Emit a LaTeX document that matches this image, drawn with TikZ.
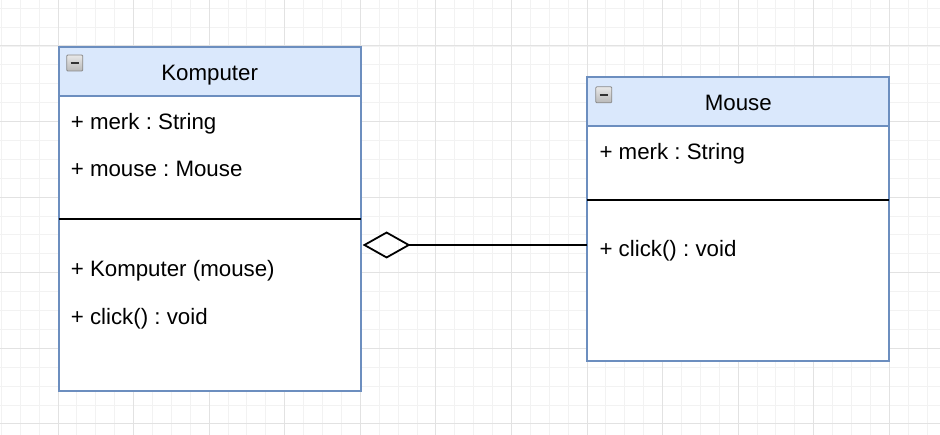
\documentclass[tikz,border=0pt]{standalone}
\usepackage{fontspec}
\setmainfont{Liberation Sans}
\usetikzlibrary{arrows.meta}
\definecolor{umlborder}{HTML}{6C8EBF}
\definecolor{umlhead}{HTML}{DAE8FC}
\definecolor{gridminor}{HTML}{F2F2F2}
\definecolor{gridmajor}{HTML}{E2E2E2}
\definecolor{icongray}{HTML}{8A8A8A}
\frenchspacing
\begin{document}
\begin{tikzpicture}[x=1pt,y=-1pt,
  classbox/.style={draw=umlborder, fill=white, line width=1.8pt, anchor=north west, outer sep=0pt, inner sep=0pt, minimum width=302pt},
  headbox/.style={draw=umlborder, fill=umlhead, line width=1.8pt, anchor=north west, outer sep=0pt, inner sep=0pt, minimum width=302pt},
  divider/.style={draw=black, line width=1.8pt},
  title/.style={anchor=base, inner sep=0pt, font=\fontsize{22.3}{26}\selectfont},
  member/.style={anchor=base west, inner sep=0pt, font=\fontsize{22.3}{26}\selectfont},
  collapseicon/.style={draw=icongray, rounded corners=1pt, line width=0.8pt, top color=gray!18, bottom color=gray!55, minimum width=16pt, minimum height=16pt, inner sep=0pt, outer sep=0pt},
  minusbar/.style={draw=black!80, line width=2.2pt},
  aggr/.style={draw=black, line width=1.8pt, -{Diamond[open, length=48pt, width=27pt, line width=1.8pt]}}
]
\useasboundingbox (0,0) rectangle (940,435);
\fill[white] (0,0) rectangle (940,435);
% grid
\foreach \k in {-3,...,47} {
  \draw[gridminor, line width=0.9pt] ({58+18.893*\k},0) -- ({58+18.893*\k},435);
}
\foreach \k in {-2,...,21} {
  \draw[gridminor, line width=0.9pt] (0,{46+18.893*\k}) -- (940,{46+18.893*\k});
}
\foreach \k in {0,4,...,44} {
  \draw[gridmajor, line width=1pt] ({58+18.893*\k},0) -- ({58+18.893*\k},435);
}
\foreach \k in {0,4,...,20} {
  \draw[gridmajor, line width=1pt] (0,{46+18.893*\k}) -- (940,{46+18.893*\k});
}

% Komputer class
\node[classbox, minimum height=343.4pt] (komp) at (58.6,47.3) {};
\node[headbox, minimum height=48.7pt] (komphead) at (58.6,47.3) {};
\draw[divider] (komp.west |- 0,219) -- (komp.east |- 0,219);
\node[collapseicon] (kompicon) at (74.8,63) {};
\draw[minusbar] ([xshift=3.8pt]kompicon.west) -- ([xshift=-3.8pt]kompicon.east);
\node[title] (komptitle) at (209.6,80.6) {Komputer};
\node[member] (kompa1) at (70.6,130) {+ merk : String};
\node[member] (kompa2) at (70.6,177) {+ mouse : Mouse};
\node[member] (kompo1) at (70.6,277) {+ Komputer (mouse)};
\node[member] (kompo2) at (70.6,325) {+ click() : void};

% Mouse class
\node[classbox, minimum height=283.4pt] (mouse) at (587.3,77.3) {};
\node[headbox, minimum height=48.7pt] (mousehead) at (587.3,77.3) {};
\draw[divider] (mouse.west |- 0,200) -- (mouse.east |- 0,200);
\node[collapseicon] (mouseicon) at (603.8,94.8) {};
\draw[minusbar] ([xshift=3.8pt]mouseicon.west) -- ([xshift=-3.8pt]mouseicon.east);
\node[title] (mousetitle) at (738.3,110.3) {Mouse};
\node[member] (mousea1) at (599.3,160) {+ merk : String};
\node[member] (mouseo1) at (599.3,257) {+ click() : void};

% aggregation
\coordinate (aggrstart) at (mouse.west |- 0,245);
\coordinate (aggrend) at ([xshift=2pt]komp.east |- 0,245);
\draw[aggr] (aggrstart) -- (aggrend);
\end{tikzpicture}
\end{document}
